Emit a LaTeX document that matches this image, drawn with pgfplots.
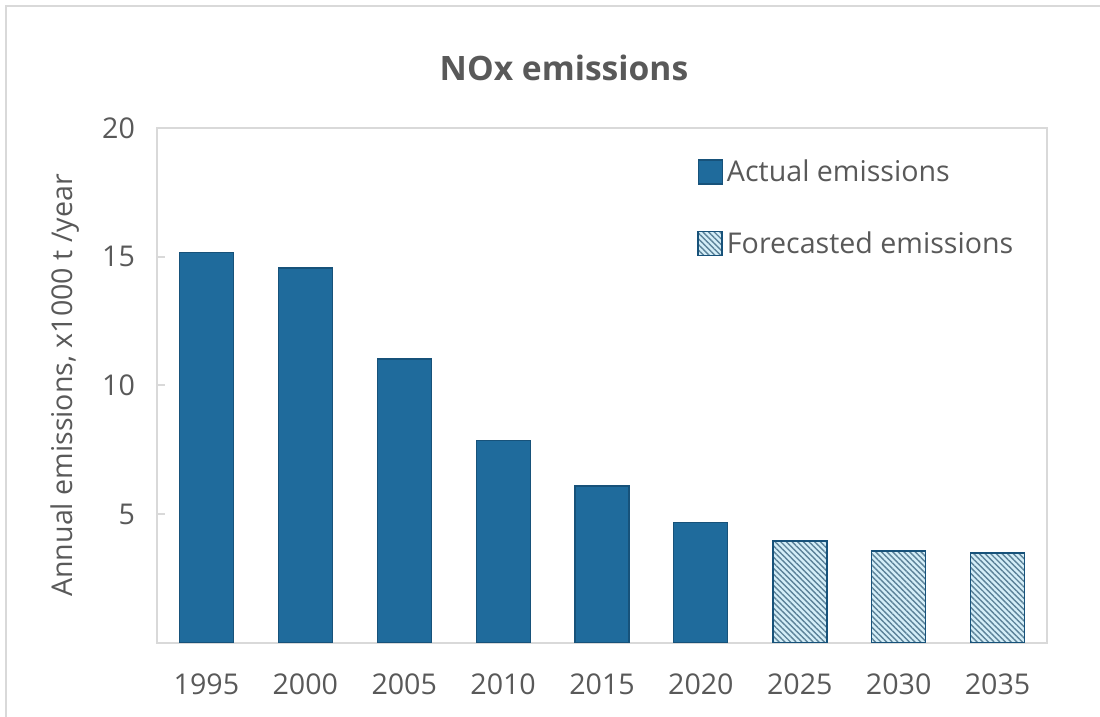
\documentclass[border=0pt]{standalone}
\usepackage{fontspec}
\setmainfont{Open Sans}
\usepackage{pgfplots}
\pgfplotsset{compat=1.18}
\usetikzlibrary{patterns.meta}
\definecolor{txt}{HTML}{595959}
\definecolor{gridgrey}{HTML}{D9D9D9}
\definecolor{barblue}{HTML}{1F6B9C}
\definecolor{baredge}{HTML}{17527A}
\definecolor{hatchbg}{HTML}{D4EEF8}
\definecolor{hatchline}{HTML}{5B8198}
\pgfplotsset{sqlegend/.style={legend image code/.code={\draw[##1] (0pt,-6pt) rectangle (12pt,6pt);}}}
\begin{document}
\begin{tikzpicture}
\path[use as bounding box] (0,0) rectangle (550pt,358.5pt);
\draw[gridgrey, line width=1pt] (3pt,0) -- (3pt,355.25pt) -- (550pt,355.25pt);
\node[font=\fontsize{16.8}{20}\selectfont\bfseries, text=txt] at (282pt,324.5pt) {NOx emissions};
\begin{axis}[
  scale only axis,
  width=445pt, height=257.5pt,
  at={(78.5pt,37pt)}, anchor=south west,
  xmin=-0.5, xmax=8.5, ymin=0, ymax=20,
  xtick={0,...,8},
  xticklabels={1995,2000,2005,2010,2015,2020,2025,2030,2035},
  ytick={5,10,15,20},
  ytick pos=left,
  axis line style={gridgrey, line width=1.2pt},
  x tick style={draw=none},
  y tick style={gridgrey, line width=1pt},
  tick align=inside,
  major tick length=4pt,
  /pgf/number format/assume math mode=true,
  tick label style={font=\fontsize{14.3}{17}\selectfont, text=txt},
  yticklabel style={xshift=-7.5pt},
  xticklabel style={yshift=-8pt},
  ylabel={Annual emissions, x1000 t /year},
  ylabel style={font=\fontsize{14.3}{17}\selectfont, text=txt},
  ylabel shift=4.5pt,
  legend style={draw=none, fill=none, at={(0.600,0.845)}, anchor=west,
    font=\fontsize{14.3}{17}\selectfont, text=txt, row sep=19.5pt,
    nodes={inner sep=2pt}},
  legend cell align=left,
  ybar, bar width=27pt, bar shift=0pt,
]
\addplot[fill=barblue, draw=baredge, line width=0.6pt, sqlegend] coordinates {
  (0,15.15) (1,14.56) (2,11.03) (3,7.86) (4,6.10) (5,4.67)
};
\addlegendentry{Actual emissions}
\addplot[fill=hatchbg, draw=baredge, line width=0.8pt,
  postaction={pattern={Lines[angle=-45, distance=2pt, line width=0.7pt]}, pattern color=hatchline},
  sqlegend] coordinates {
  (6,3.96) (7,3.57) (8,3.50)
};
\addlegendentry{Forecasted emissions}
\end{axis}
\end{tikzpicture}
\end{document}
